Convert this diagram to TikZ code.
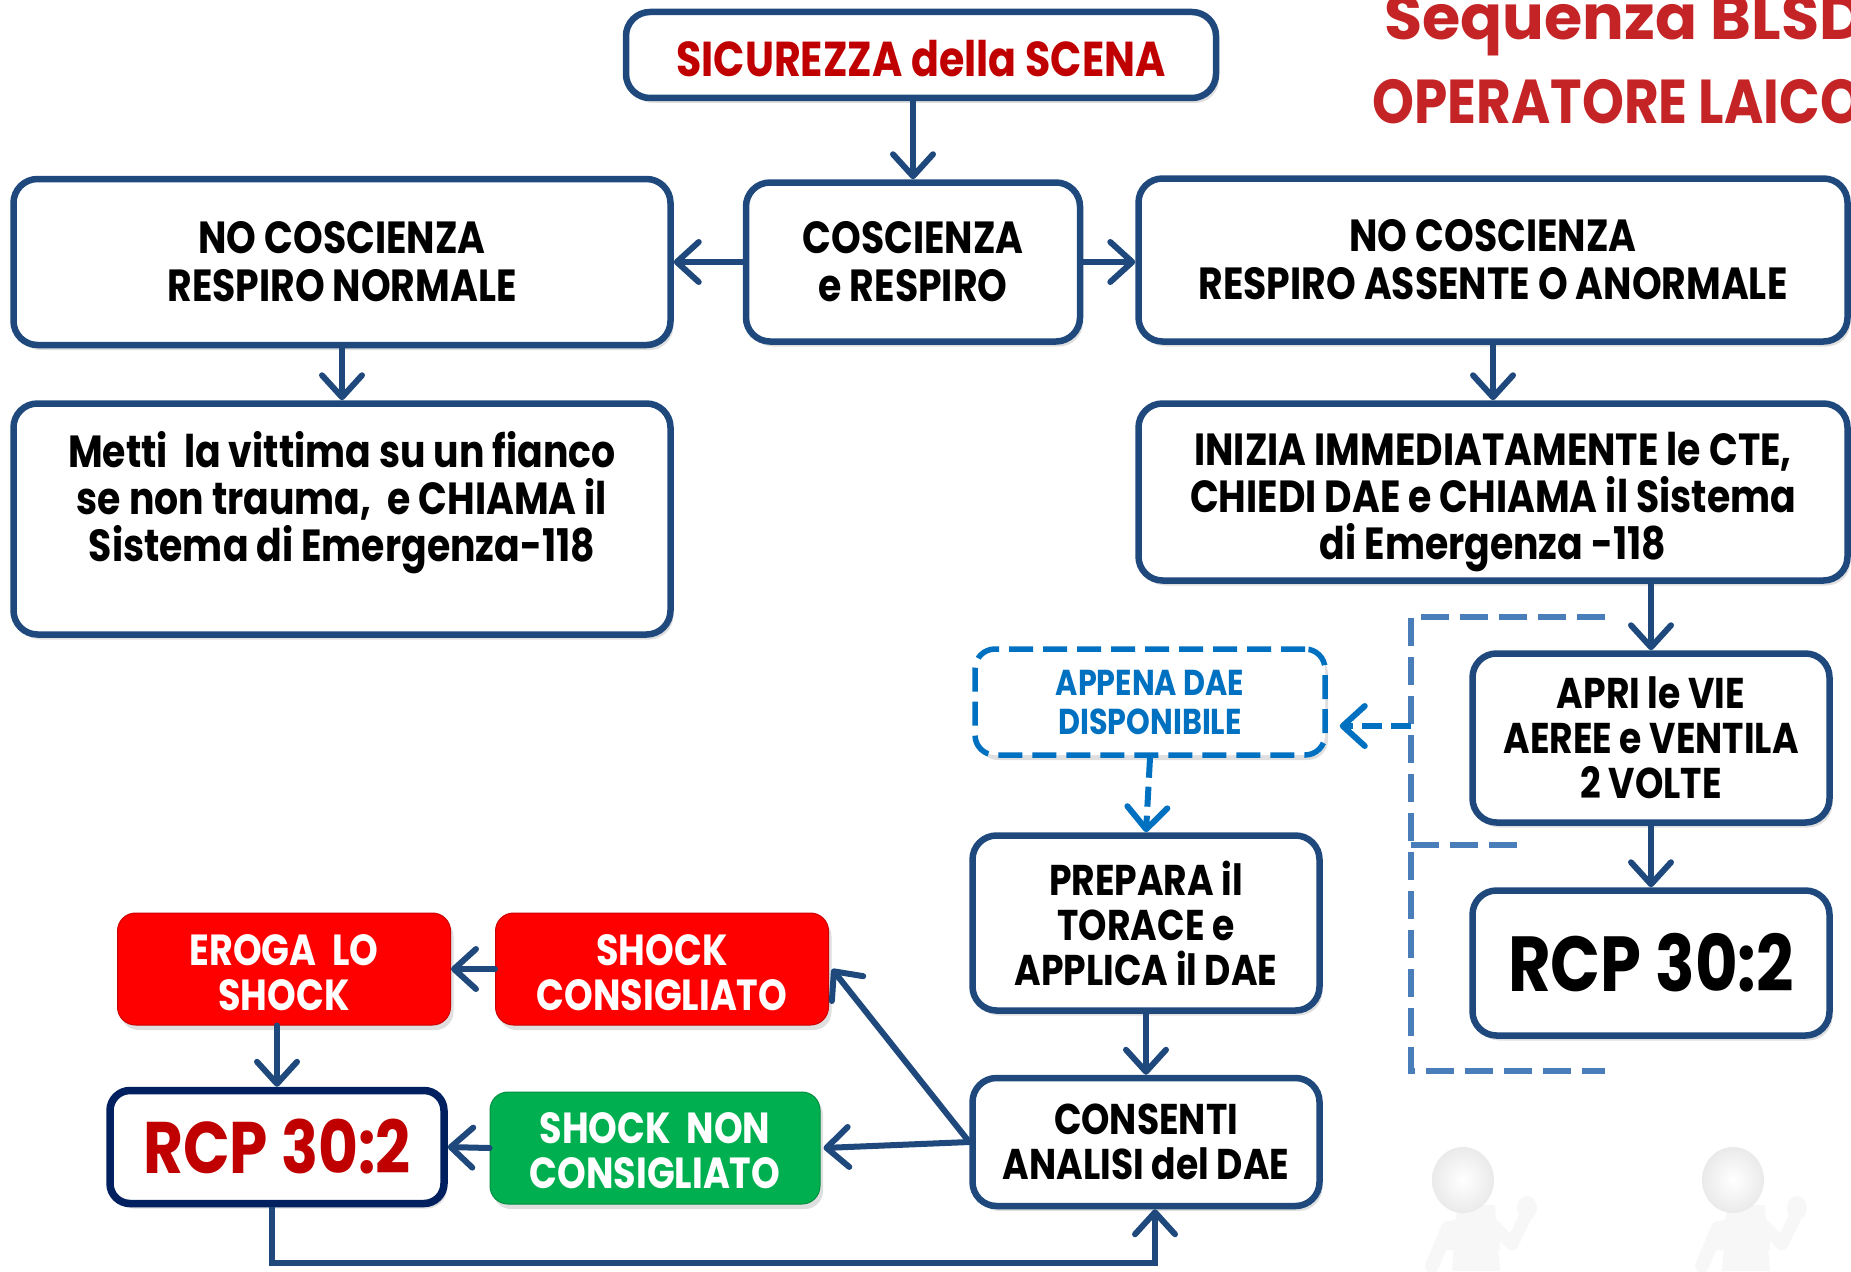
\documentclass[tikz,border=0pt]{standalone}
\usepackage{fontspec}
\setmainfont{Poppins}
\newfontfamily\cg[FakeStretch=0.84]{Poppins}
\newfontfamily\cgwide{Poppins}
\newfontfamily\cgmid[FakeStretch=0.86]{Poppins}
\usetikzlibrary{arrows.meta,shadows,shapes.geometric}
\definecolor{navy}{RGB}{31,73,125}
\definecolor{deepnavy}{RGB}{0,32,96}
\definecolor{darkred}{RGB}{192,0,0}
\definecolor{boxred}{RGB}{255,0,0}
\definecolor{boxgreen}{RGB}{0,176,80}
\definecolor{daeblue}{RGB}{0,112,192}
\definecolor{bracketblue}{RGB}{74,126,187}
\definecolor{titlered}{RGB}{196,36,38}
\definecolor{figgray}{RGB}{247,247,247}
\definecolor{figshade}{RGB}{234,234,234}
\tikzset{
  fs/.style 2 args={font=\cg\bfseries\fontsize{#1}{#2}\selectfont},
  flowbox/.style={draw=navy, line width=6.5pt, fill=white, rounded corners=24pt,
    align=center, inner sep=0pt,
    drop shadow={shadow xshift=3pt, shadow yshift=-5pt, opacity=0.25}},
  daebox/.style={draw=daeblue, line width=5.5pt, fill=white, rounded corners=20pt,
    dash pattern=on 24pt off 10pt, align=center, inner sep=0pt, text=daeblue,
    drop shadow={shadow xshift=3pt, shadow yshift=-5pt, opacity=0.25}},
  colbox/.style={draw=#1!80!black, line width=1pt, fill=#1, rounded corners=18pt,
    align=center, inner sep=0pt, text=white,
    drop shadow={shadow xshift=3pt, shadow yshift=-5pt, opacity=0.25}},
  boxtext/.style={align=center, inner sep=0pt},
  link/.style={draw=navy, line width=6pt, line cap=round,
    -{Straight Barb[length=22pt, width=40pt, line width=6pt, round]}},
  dashlink/.style={draw=daeblue, line width=6pt, dash pattern=on 20pt off 9pt,
    -{Straight Barb[length=22pt, width=40pt, line width=6pt, round]}},
  bracket/.style={draw=bracketblue, line width=6pt, dash pattern=on 28pt off 11pt},
  titletext/.style={anchor=base west, text=titlered},
}
\begin{document}
\begin{tikzpicture}[x=1pt, y=-1pt]
\useasboundingbox (0,0) rectangle (1851,1271);
\clip (0,0) rectangle (1851,1271);

% title
\node[titletext, font=\cgwide\bfseries\fontsize{62}{62}\selectfont] (title1) at (1381,40) {Sequenza BLSD};
\node[titletext, font=\cgmid\bfseries\fontsize{62}{62}\selectfont] (title2) at (1369,124) {OPERATORE LAICO};

% main boxes
\node[flowbox, minimum width=590pt, minimum height=86pt] (sic) at (921,55) {};
\node[boxtext, text=darkred, fs={49}{52}, yshift=-3.5pt] (sict) at (sic.center) {SICUREZZA della SCENA};
\node[flowbox, minimum width=334pt, minimum height=159pt, fs={45}{48}] (cosc) at (913,262) {COSCIENZA\\e RESPIRO};
\node[flowbox, minimum width=657pt, minimum height=166pt, fs={45}{48}] (nol) at (342,262) {NO COSCIENZA\\RESPIRO NORMALE};
\node[flowbox, minimum width=709pt, minimum height=163pt, fs={45}{48}] (nor) at (1493,260) {NO COSCIENZA\\RESPIRO ASSENTE O ANORMALE};
\node[flowbox, minimum width=657pt, minimum height=231pt] (metti) at (342,519) {};
\node[boxtext, fs={45}{47}, yshift=16.5pt] (mettit) at (metti.center) {Metti\ \ la vittima su un fianco\\se non trauma,\ \ e CHIAMA il\\Sistema di Emergenza-118};
\node[flowbox, minimum width=709pt, minimum height=177pt] (inizia) at (1493,492) {};
\node[boxtext, fs={45}{47}, yshift=-10pt] (iniziat) at (inizia.center) {INIZIA IMMEDIATAMENTE le CTE,\\CHIEDI DAE e CHIAMA il Sistema\\di Emergenza -118};
\node[daebox, minimum width=350pt, minimum height=106pt, fs={36}{39}] (appena) at (1150,702) {APPENA DAE\\DISPONIBILE};
\node[flowbox, minimum width=357pt, minimum height=169pt, fs={43}{45}] (apri) at (1651,738) {APRI le VIE\\AEREE e VENTILA\\2 VOLTE};
\node[flowbox, minimum width=357pt, minimum height=145pt, fs={78}{78}] (rcpr) at (1651,963) {RCP 30:2};
\node[flowbox, minimum width=347pt, minimum height=175pt, fs={43}{45}] (prep) at (1146,923) {PREPARA il\\TORACE e\\APPLICA il DAE};
\node[flowbox, minimum width=347pt, minimum height=128pt, fs={43}{45}] (cons) at (1146,1142) {CONSENTI\\ANALISI del DAE};
\node[colbox=boxred, minimum width=333pt, minimum height=112pt] (shc) at (662,969) {};
\node[boxtext, text=white, fs={43.5}{45}, yshift=-3.5pt] (shct) at (shc.center) {SHOCK\\CONSIGLIATO};
\node[colbox=boxred, minimum width=333pt, minimum height=112pt] (erg) at (284,969) {};
\node[boxtext, text=white, fs={43.5}{45}, yshift=-3.5pt] (ergt) at (erg.center) {EROGA\ \ LO\\SHOCK};
\node[colbox=boxgreen, minimum width=330pt, minimum height=112pt] (shn) at (655,1148) {};
\node[boxtext, text=white, fs={43.5}{45}, yshift=-3pt] (shnt) at (shn.center) {SHOCK\ \ NON\\CONSIGLIATO};
\node[flowbox, draw=deepnavy, line width=7.5pt, rounded corners=20pt, minimum width=334pt, minimum height=113pt, text=darkred, fs={73}{73}] (rcpl) at (277,1147) {RCP 30:2};

% dashed bracket beside the ventilation steps
\coordinate (bt) at (1411,617);
\coordinate (bm) at (1411,845);
\coordinate (bb) at (1411,1071);
\coordinate (bj) at (1411,726);
\draw[bracket] (1605,617) -- (bt) -- (bb) -- (1605,1071);
\draw[bracket] (bm) -- (1523,845);

% connectors
\draw[link] (sic.south -| cosc.north) -- (cosc.north);
\draw[link] (cosc.west) -- (nol.east |- cosc.west);
\draw[link] (cosc.east) -- (nor.west |- cosc.east);
\draw[link] (nol.south) -- (metti.north);
\draw[link] (nor.south) -- (inizia.north);
\draw[link] (apri.north |- inizia.south) -- (apri.north);
\draw[link] (apri.south) -- (rcpr.north);
\draw[dashlink] (appena.south) -- (prep.north);
\draw[dashlink] (bj) -- ([xshift=12pt]appena.east |- bj);
\draw[link] (prep.south) -- (cons.north);
\draw[link] (cons.west) -- ([xshift=3pt]shc.east);
\draw[link] (cons.west) -- ([xshift=3pt]shn.east);
\draw[link] (shc.west) -- (erg.east);
\draw[link] (shn.west) -- (rcpl.east);
\draw[link] (rcpl.north |- erg.south) -- (rcpl.north);
\coordinate (loopa) at (272,1263);
\coordinate (loopb) at (1155,1263);
\draw[link, line cap=butt] (rcpl.south -| loopa) -- (loopa) -- (loopb) -- (loopb |- cons.south);

% two figures in the corner
\foreach \dx/\nm in {0/mana, 270/manb} {
  \begin{scope}[xshift=\dx pt]
    \fill[figgray] (1457,1205) -- (1495,1205) -- (1500,1271) -- (1452,1271) -- cycle;
    \fill[figgray] (1447,1222) .. controls (1470,1214) and (1488,1214) .. (1500,1224)
      -- (1500,1250) -- (1445,1250) -- cycle;
    \draw[figgray, line width=14pt, line cap=round, line join=round]
      (1448,1228) -- (1432,1266);
    \draw[figgray, line width=13pt, line cap=round, line join=round]
      (1494,1226) -- (1512,1244) -- (1526,1215);
    \fill[figgray] (1527,1208) ellipse (10pt and 12pt);
    \node[ellipse, inner color=white, outer color=figshade, minimum width=62pt, minimum height=66pt, inner sep=0pt] (\nm) at (1463,1180) {};
  \end{scope}
}
\end{tikzpicture}
\end{document}
